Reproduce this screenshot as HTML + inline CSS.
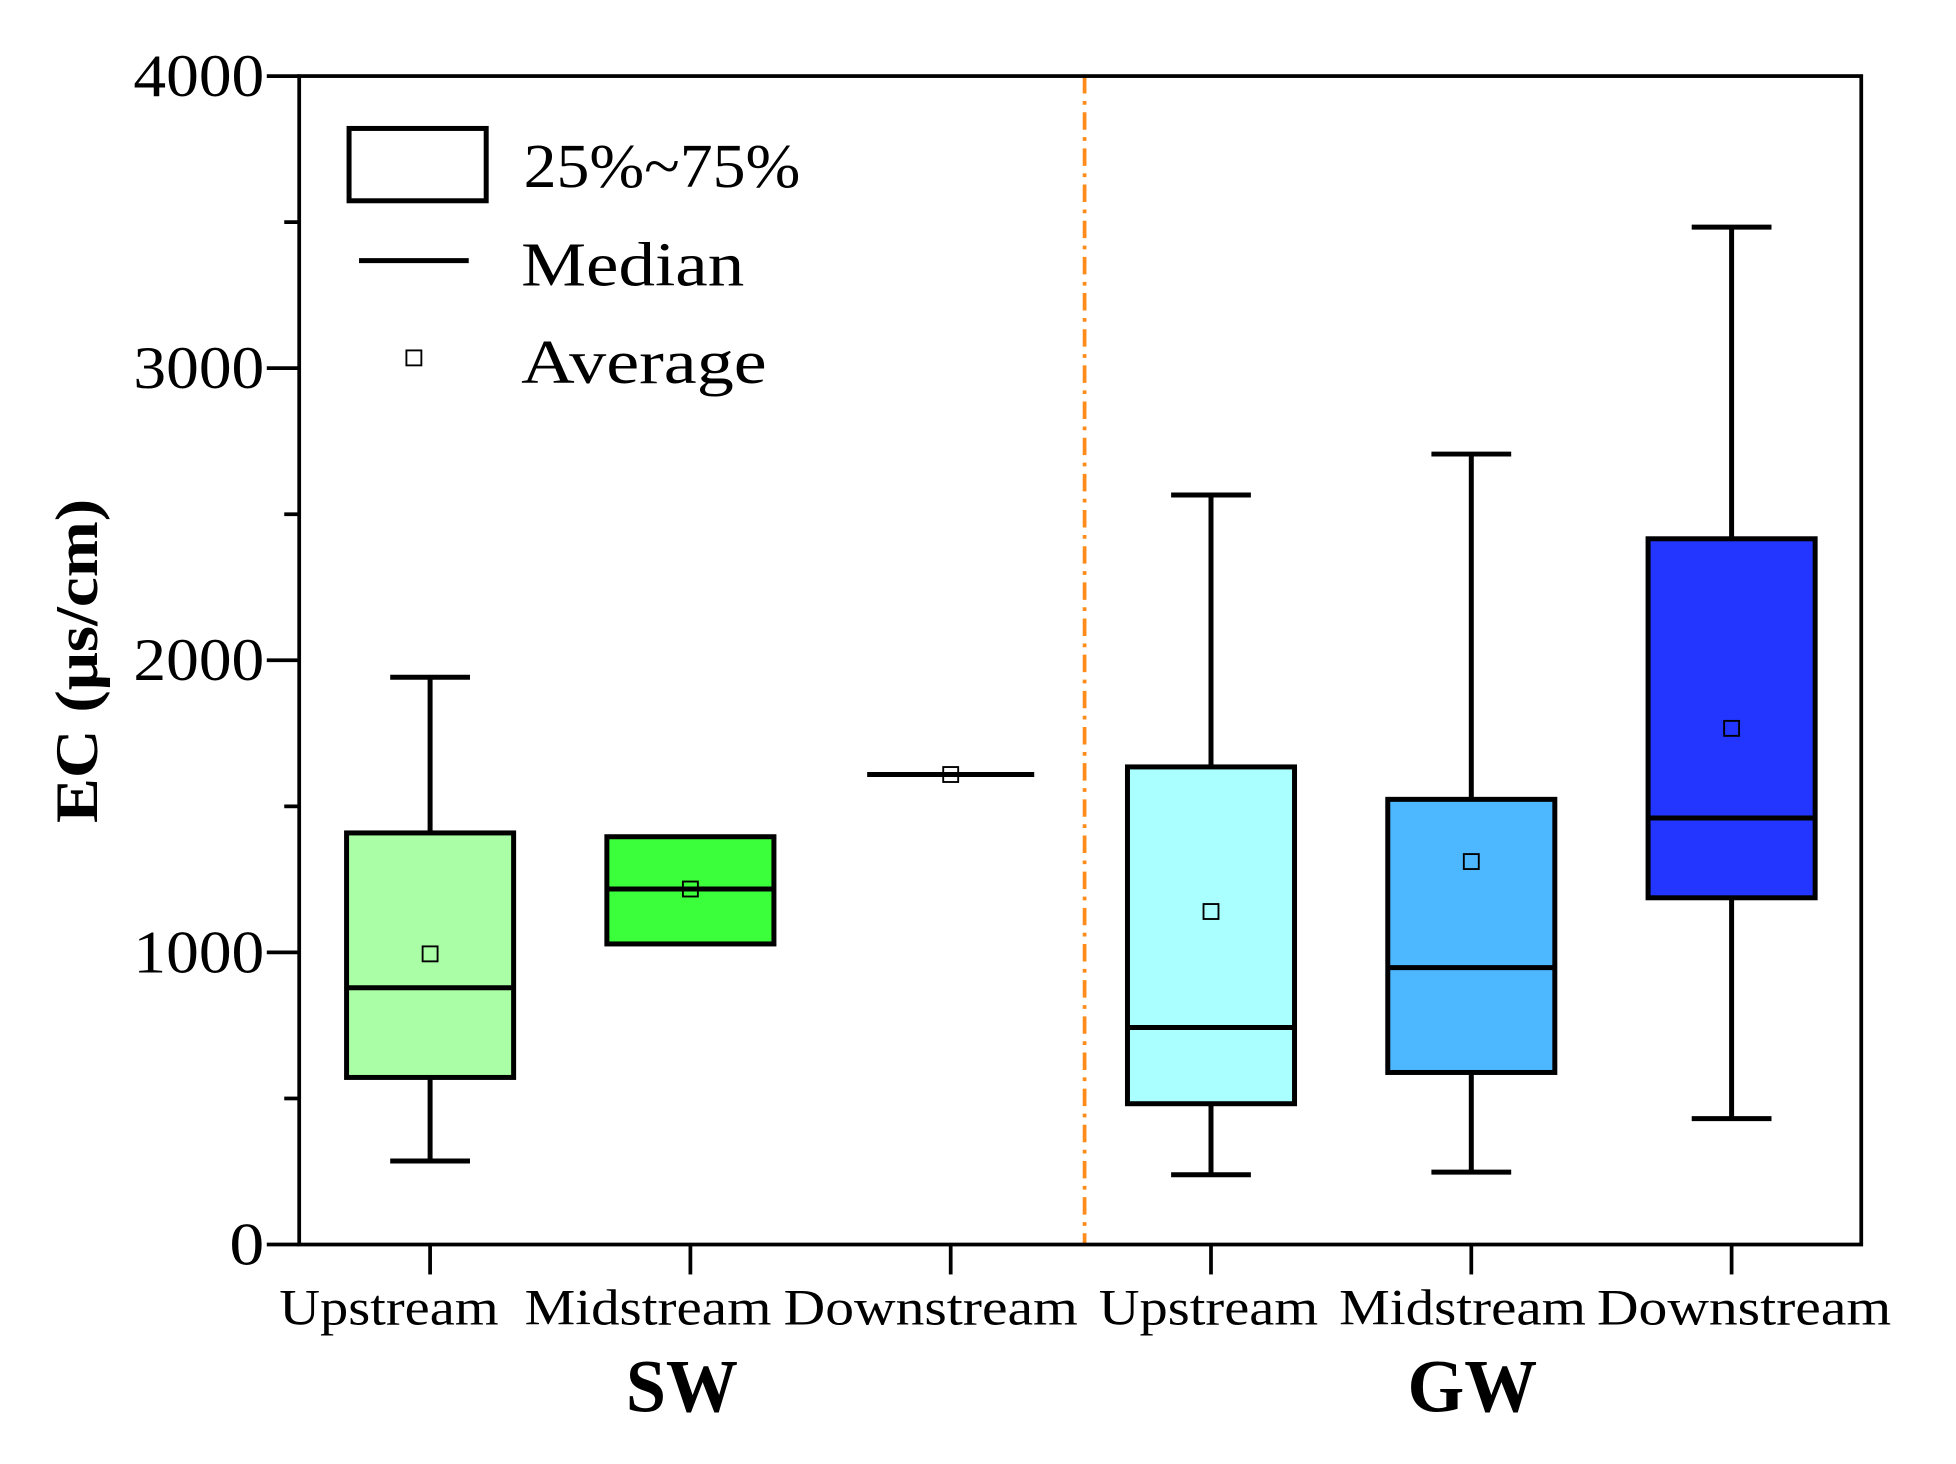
<!DOCTYPE html>
<html><head><meta charset="utf-8"><style>
html,body{margin:0;padding:0;background:#fff;}
svg{display:block;}
text{font-family:"Liberation Serif",serif;fill:#000;}
</style></head><body>
<svg id="chart" width="1956" height="1464" viewBox="0 0 1569 1174" preserveAspectRatio="none" xmlns="http://www.w3.org/2000/svg">
<g id="plot"></g>
</svg>
<script>
const categories = ["Upstream","Midstream","Downstream","Upstream","Midstream","Downstream"];
const groups = ["SW","GW"];
const mins    = [286, 1029, 1609, 239, 248, 431];
const q1s     = [572, 1029, 1609, 482, 589, 1187];
const medians = [879, 1217, 1609, 743, 948, 1460];
const q3s     = [1409, 1396, 1609, 1635, 1524, 2416];
const maxs    = [1942, 1396, 1609, 2566, 2706, 3483];
const means   = [995, 1217, 1609, 1140, 1311, 1767];
const yTicks  = [0, 1000, 2000, 3000, 4000];
const yMinorTicks = [500, 1500, 2500, 3500];

const colors = ["#aaffa6","#3cff3c","#ffffff","#aaffff","#4db8ff","#2236ff"];
const NS = "http://www.w3.org/2000/svg";
const L=240, R=1493, T=61, B=998;
const yMax=4000;
function y(v){return B-(v/yMax)*(B-T);}
function x(i){return 345 + i*208.8;}
const g=document.getElementById('plot');
function mk(tag, attrs, name, parent){
  const e=document.createElementNS(NS,tag);
  for(const k in attrs) e.setAttribute(k,attrs[k]);
  
  
  (parent||g).appendChild(e);
  return e;
}
mk('line',{x1:870,y1:T,x2:870,y2:B,stroke:'#ff8c1a','stroke-width':3,'stroke-dasharray':'14 6 3 6'},'group-divider');
const bw=134, cw=64;
categories.forEach((c,i)=>{
  const cx=x(i);
  const bg=mk('g',{},'box-'+groups[i<3?0:1].toLowerCase()+'-'+c.toLowerCase());
  if(maxs[i]>q3s[i]){
    mk('line',{x1:cx,y1:y(maxs[i]),x2:cx,y2:y(q3s[i]),stroke:'#000','stroke-width':4},'upper-whisker',bg);
    mk('line',{x1:cx-cw/2,y1:y(maxs[i]),x2:cx+cw/2,y2:y(maxs[i]),stroke:'#000','stroke-width':4},'upper-cap',bg);
  }
  if(mins[i]<q1s[i]){
    mk('line',{x1:cx,y1:y(q1s[i]),x2:cx,y2:y(mins[i]),stroke:'#000','stroke-width':4},'lower-whisker',bg);
    mk('line',{x1:cx-cw/2,y1:y(mins[i]),x2:cx+cw/2,y2:y(mins[i]),stroke:'#000','stroke-width':4},'lower-cap',bg);
  }
  if(q3s[i]>q1s[i]){
    mk('rect',{x:cx-bw/2,y:y(q3s[i]),width:bw,height:y(q1s[i])-y(q3s[i]),fill:colors[i],stroke:'#000','stroke-width':4},'iqr-box',bg);
  }
  mk('line',{x1:cx-bw/2,y1:y(medians[i]),x2:cx+bw/2,y2:y(medians[i]),stroke:'#000','stroke-width':4},'median-line',bg);
  mk('rect',{x:cx-6,y:y(means[i])-6,width:12,height:12,fill:'none',stroke:'#000','stroke-width':1.5},'mean-marker',bg);
});
mk('rect',{x:L,y:T,width:R-L,height:B-T,fill:'none',stroke:'#000','stroke-width':3},'plot-frame');
yTicks.forEach(v=>{
  mk('line',{x1:L-26,y1:y(v),x2:L,y2:y(v),stroke:'#000','stroke-width':3},'y-tick');
  const w = String(v).length==1 ? 28 : 105;
  const t=mk('text',{x:L-28,y:y(v)+16,'text-anchor':'end','font-size':48,textLength:w,lengthAdjust:'spacingAndGlyphs'},'y-tick-label');
  t.textContent=v;
});
yMinorTicks.forEach(v=>{
  mk('line',{x1:L-12,y1:y(v),x2:L,y2:y(v),stroke:'#000','stroke-width':3},'y-minor-tick');
});
const lblOff=[-33,-34,-16,-2,-7,10];
const lblW={Upstream:176,Midstream:198,Downstream:236};
categories.forEach((c,i)=>{
  mk('line',{x1:x(i),y1:B,x2:x(i),y2:B+24,stroke:'#000','stroke-width':3},'x-tick');
  const t=mk('text',{x:x(i)+lblOff[i],y:1062,'text-anchor':'middle','font-size':41,textLength:lblW[c],lengthAdjust:'spacingAndGlyphs'},'x-tick-label');
  t.textContent=c;
});
[[547,'SW',90],[1181,'GW',104]].forEach(([px,s,w])=>{
  const t=mk('text',{x:px,y:1132,'text-anchor':'middle','font-size':60,'font-weight':'bold',textLength:w,lengthAdjust:'spacingAndGlyphs'},'group-label-'+s.toLowerCase());
  t.textContent=s;
});
const yt=mk('text',{x:0,y:0,transform:'translate(78,530) rotate(-90)','text-anchor':'middle','font-size':48,'font-weight':'bold',textLength:260,lengthAdjust:'spacingAndGlyphs'},'y-axis-title');
yt.textContent='EC (μs/cm)';
const lg=mk('g',{},'legend');
mk('rect',{x:280,y:103,width:110,height:58,fill:'none',stroke:'#000','stroke-width':4},'legend-box-symbol',lg);
let t1=mk('text',{x:420,y:150,'font-size':50,textLength:222,lengthAdjust:'spacingAndGlyphs'},'legend-iqr-label',lg); t1.textContent='25%~75%';
mk('line',{x1:288,y1:209,x2:376,y2:209,stroke:'#000','stroke-width':4},'legend-median-symbol',lg);
let t2=mk('text',{x:418,y:229,'font-size':50,textLength:179,lengthAdjust:'spacingAndGlyphs'},'legend-median-label',lg); t2.textContent='Median';
mk('rect',{x:326,y:281,width:12,height:12,fill:'none',stroke:'#000','stroke-width':1.5},'legend-average-symbol',lg);
let t3=mk('text',{x:418,y:307,'font-size':50,textLength:197,lengthAdjust:'spacingAndGlyphs'},'legend-average-label',lg); t3.textContent='Average';
</script>
</body></html>
